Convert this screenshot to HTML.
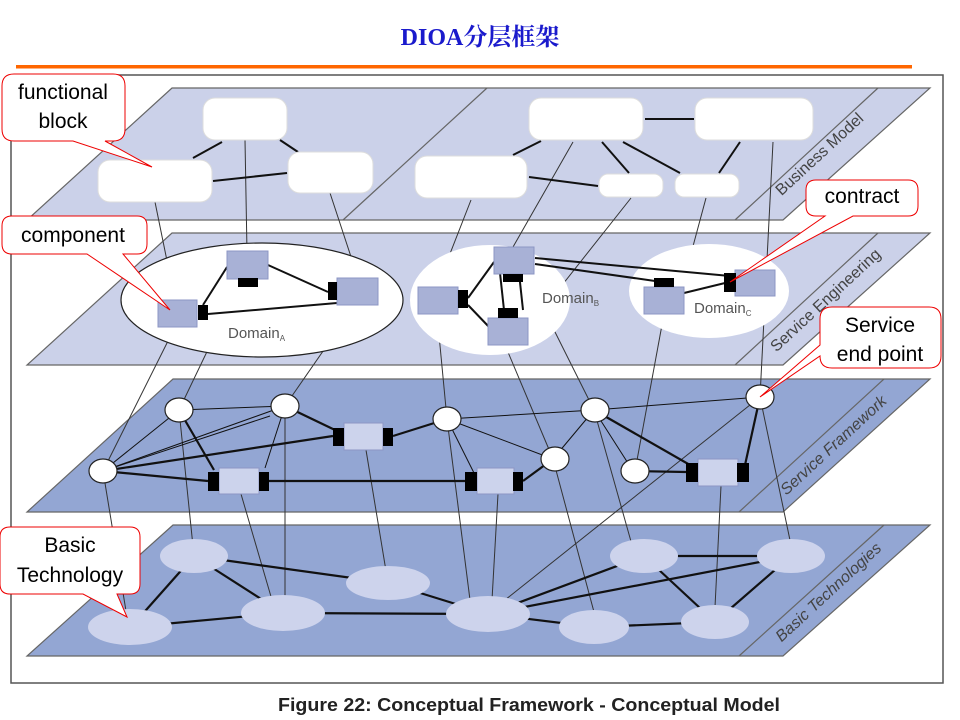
<!DOCTYPE html>
<html><head><meta charset="utf-8"><style>
html,body{margin:0;padding:0;background:#fff;}
svg{display:block;}
</style></head><body>
<svg width="960" height="720" viewBox="0 0 960 720" xmlns="http://www.w3.org/2000/svg" font-family="Liberation Sans, sans-serif">
<text x="480" y="45" text-anchor="middle" font-family="Liberation Serif, Noto Serif CJK SC, serif" font-weight="bold" font-size="24" fill="#1a1acc">DIOA分层框架</text>
<rect x="16" y="65" width="896" height="3.5" fill="#ff6600"/>
<rect x="11" y="75" width="932" height="608" fill="#fff" stroke="#555" stroke-width="1.5"/>

<!-- planes -->
<g stroke="#666" stroke-width="1.2">
<polygon points="172,88 930,88 783,220 27,220" fill="#cbd1e9"/>
<line x1="878" y1="88" x2="735" y2="220"/>
<line x1="487" y1="88" x2="343" y2="220"/>
<polygon points="172,233 930,233 783,365 27,365" fill="#cbd1e9"/>
<line x1="878" y1="233" x2="735" y2="365"/>
<polygon points="173,379 930,379 783,512 27,512" fill="#93a6d3"/>
<line x1="884" y1="379" x2="739" y2="512"/>
<polygon points="173,525 930,525 783,656 27,656" fill="#93a6d3"/>
<line x1="884" y1="525" x2="739" y2="656"/>
</g>
<g fill="#444" font-size="16">
<text transform="translate(823,158) rotate(-42.7)" text-anchor="middle">Business Model</text>
<text transform="translate(829,304) rotate(-42.7)" text-anchor="middle">Service Engineering</text>
<text transform="translate(837,449) rotate(-42.7)" text-anchor="middle" font-style="italic">Service Framework</text>
<text transform="translate(832,596) rotate(-42.7)" text-anchor="middle" font-style="italic">Basic Technologies</text>
</g>

<!-- inter-layer thin lines -->
<g stroke="#333" stroke-width="1" fill="none">
<line x1="155" y1="202" x2="175" y2="300"/>
<line x1="245" y1="140" x2="247" y2="252"/>
<line x1="330" y1="193" x2="358" y2="278"/>
<line x1="471" y1="200" x2="437" y2="287"/>
<line x1="573" y1="142" x2="513" y2="247"/>
<line x1="631" y1="198" x2="525" y2="332"/>
<line x1="706" y1="198" x2="682" y2="287"/>
<line x1="773" y1="142" x2="760" y2="397"/>
<line x1="175" y1="327" x2="103" y2="471"/>
<line x1="238" y1="287" x2="179" y2="410"/>
<line x1="355" y1="305" x2="285" y2="406"/>
<line x1="437" y1="314" x2="447" y2="419"/>
<line x1="505" y1="345" x2="553" y2="459"/>
<line x1="526" y1="274" x2="594" y2="410"/>
<line x1="664" y1="314" x2="635" y2="471"/>
<line x1="103" y1="471" x2="127" y2="617"/>
<line x1="179" y1="410" x2="194" y2="556"/>
<line x1="241" y1="494" x2="272" y2="600"/>
<line x1="285" y1="406" x2="285" y2="600"/>
<line x1="366" y1="450" x2="388" y2="583"/>
<line x1="447" y1="419" x2="470" y2="600"/>
<line x1="498" y1="494" x2="492" y2="600"/>
<line x1="760" y1="397" x2="505" y2="600"/>
<line x1="553" y1="459" x2="594" y2="612"/>
<line x1="594" y1="410" x2="632" y2="545"/>
<line x1="721" y1="486" x2="715" y2="607"/>
<line x1="760" y1="397" x2="791" y2="545"/>
</g>

<!-- business blocks -->
<g stroke="#111" stroke-width="2">
<line x1="193" y1="158" x2="222" y2="142"/>
<line x1="280" y1="140" x2="298" y2="152"/>
<line x1="213" y1="181" x2="287" y2="173"/>
<line x1="645" y1="119" x2="694" y2="119"/>
<line x1="541" y1="141" x2="513" y2="155"/>
<line x1="529" y1="177" x2="598" y2="186"/>
<line x1="602" y1="142" x2="629" y2="173"/>
<line x1="623" y1="142" x2="680" y2="173"/>
<line x1="740" y1="142" x2="719" y2="173"/>
</g>
<g fill="#fff" stroke="#ddd" stroke-width="1">
<rect x="203" y="98" width="84" height="42" rx="12"/>
<rect x="98" y="160" width="114" height="42" rx="12"/>
<rect x="288" y="152" width="85" height="41" rx="12"/>
<rect x="415" y="156" width="112" height="42" rx="12"/>
<rect x="529" y="98" width="114" height="42" rx="12"/>
<rect x="695" y="98" width="118" height="42" rx="12"/>
<rect x="599" y="174" width="64" height="23" rx="9"/>
<rect x="675" y="174" width="64" height="23" rx="9"/>
</g>

<!-- service engineering -->
<ellipse cx="262" cy="300" rx="141" ry="57" fill="#fff" stroke="#222" stroke-width="1.2"/>
<ellipse cx="490" cy="300" rx="80" ry="55" fill="#fff"/>
<ellipse cx="709" cy="291" rx="80" ry="47" fill="#fff"/>
<g fill="#555" font-size="15">
<text x="228" y="338">Domain<tspan font-size="8" dy="3">A</tspan></text>
<text x="542" y="303">Domain<tspan font-size="8" dy="3">B</tspan></text>
<text x="694" y="313">Domain<tspan font-size="8" dy="3">C</tspan></text>
</g>
<g stroke="#111" stroke-width="2">
<line x1="203" y1="305" x2="227" y2="267"/>
<line x1="208" y1="314" x2="337" y2="303"/>
<line x1="268" y1="265" x2="328" y2="292"/>
<line x1="500" y1="273" x2="504" y2="310"/>
<line x1="519" y1="273" x2="523" y2="310"/>
<line x1="468" y1="298" x2="494" y2="262"/>
<line x1="468" y1="305" x2="490" y2="328"/>
<line x1="535" y1="258" x2="730" y2="276"/>
<line x1="535" y1="264" x2="655" y2="281"/>
<line x1="684" y1="293" x2="725" y2="283"/>
</g>
<g fill="#a8b1d6" stroke="#8c96c4" stroke-width="1">
<rect x="158" y="300" width="39" height="27"/>
<rect x="227" y="251" width="41" height="28"/>
<rect x="337" y="278" width="41" height="27"/>
<rect x="418" y="287" width="40" height="27"/>
<rect x="494" y="247" width="40" height="27"/>
<rect x="488" y="318" width="40" height="27"/>
<rect x="644" y="287" width="40" height="27"/>
<rect x="735" y="270" width="40" height="26"/>
</g>
<g fill="#000">
<rect x="198" y="305" width="10" height="15"/>
<rect x="238" y="278" width="20" height="9"/>
<rect x="328" y="282" width="9" height="18"/>
<rect x="458" y="290" width="10" height="18"/>
<rect x="503" y="274" width="20" height="8"/>
<rect x="498" y="308" width="20" height="10"/>
<rect x="654" y="278" width="20" height="9"/>
<rect x="724" y="273" width="12" height="19"/>
</g>

<!-- service framework links -->
<g stroke="#111" stroke-width="1">
<line x1="103" y1="471" x2="179" y2="410"/>
<line x1="103" y1="471" x2="285" y2="406"/>
<line x1="103" y1="471" x2="270" y2="416"/>
<line x1="179" y1="410" x2="285" y2="406"/>
<line x1="285" y1="406" x2="265" y2="468"/>
<line x1="447" y1="419" x2="594" y2="410"/>
<line x1="594" y1="410" x2="760" y2="397"/>
<line x1="447" y1="419" x2="553" y2="459"/>
<line x1="447" y1="419" x2="478" y2="481"/>
<line x1="553" y1="459" x2="594" y2="410"/>
<line x1="594" y1="410" x2="633" y2="471"/>
</g>
<g stroke="#111" stroke-width="2.2">
<line x1="103" y1="471" x2="333" y2="436"/>
<line x1="103" y1="471" x2="208" y2="481"/>
<line x1="179" y1="410" x2="214" y2="470"/>
<line x1="285" y1="406" x2="335" y2="430"/>
<line x1="393" y1="436" x2="447" y2="419"/>
<line x1="269" y1="481" x2="465" y2="481"/>
<line x1="523" y1="481" x2="553" y2="459"/>
<line x1="594" y1="410" x2="690" y2="465"/>
<line x1="633" y1="471" x2="686" y2="472"/>
<line x1="760" y1="397" x2="745" y2="465"/>
</g>
<g fill="#fff" stroke="#222" stroke-width="1.2">
<ellipse cx="103" cy="471" rx="14" ry="12"/>
<ellipse cx="179" cy="410" rx="14" ry="12"/>
<ellipse cx="285" cy="406" rx="14" ry="12"/>
<ellipse cx="447" cy="419" rx="14" ry="12"/>
<ellipse cx="555" cy="459" rx="14" ry="12"/>
<ellipse cx="595" cy="410" rx="14" ry="12"/>
<ellipse cx="635" cy="471" rx="14" ry="12"/>
<ellipse cx="760" cy="397" rx="14" ry="12"/>
</g>
<g fill="#ccd3ec" stroke="#8c96c4">
<rect x="344" y="423" width="39" height="27"/>
<rect x="219" y="468" width="40" height="26"/>
<rect x="477" y="468" width="37" height="26"/>
<rect x="698" y="459" width="40" height="27"/>
</g>
<g fill="#000">
<rect x="333" y="428" width="11" height="18"/>
<rect x="383" y="428" width="10" height="18"/>
<rect x="208" y="472" width="11" height="19"/>
<rect x="259" y="472" width="10" height="19"/>
<rect x="465" y="472" width="12" height="19"/>
<rect x="513" y="472" width="10" height="19"/>
<rect x="686" y="463" width="12" height="19"/>
<rect x="737" y="463" width="12" height="19"/>
</g>

<!-- basic technologies -->
<g stroke="#111" stroke-width="2.2">
<line x1="131" y1="627" x2="194" y2="556"/>
<line x1="131" y1="627" x2="283" y2="613"/>
<line x1="194" y1="556" x2="283" y2="613"/>
<line x1="194" y1="556" x2="388" y2="583"/>
<line x1="283" y1="613" x2="488" y2="614"/>
<line x1="388" y1="583" x2="488" y2="614"/>
<line x1="488" y1="614" x2="594" y2="627"/>
<line x1="594" y1="627" x2="715" y2="622"/>
<line x1="488" y1="614" x2="644" y2="556"/>
<line x1="488" y1="614" x2="791" y2="556"/>
<line x1="644" y1="556" x2="791" y2="556"/>
<line x1="644" y1="556" x2="715" y2="622"/>
<line x1="715" y1="622" x2="791" y2="556"/>
</g>
<g fill="#cdd3ec">
<ellipse cx="130" cy="627" rx="42" ry="18"/>
<ellipse cx="194" cy="556" rx="34" ry="17"/>
<ellipse cx="283" cy="613" rx="42" ry="18"/>
<ellipse cx="388" cy="583" rx="42" ry="17"/>
<ellipse cx="488" cy="614" rx="42" ry="18"/>
<ellipse cx="594" cy="627" rx="35" ry="17"/>
<ellipse cx="644" cy="556" rx="34" ry="17"/>
<ellipse cx="715" cy="622" rx="34" ry="17"/>
<ellipse cx="791" cy="556" rx="34" ry="17"/>
</g>

<!-- callouts -->
<g fill="#fff" stroke="#e00" stroke-width="1">
<path d="M14,74 H113 Q125,74 125,86 V129 Q125,141 113,141 H105 L152,167 L73,141 H14 Q2,141 2,129 V86 Q2,74 14,74 Z"/>
<path d="M12,216 H137 Q147,216 147,226 V244 Q147,254 137,254 H123 L170,310 L87,254 H12 Q2,254 2,244 V226 Q2,216 12,216 Z"/>
<path d="M816,180 H908 Q918,180 918,190 V206 Q918,216 908,216 H853 L730,282 L825,216 H816 Q806,216 806,206 V190 Q806,180 816,180 Z"/>
<path d="M832,307 H929 Q941,307 941,319 V356 Q941,368 929,368 H832 Q820,368 820,356 L760,397 L820,345 V319 Q820,307 832,307 Z"/>
<path d="M10,527 H130 Q140,527 140,537 V584 Q140,594 130,594 H117 L127,617 L83,594 H10 Q0,594 0,584 V537 Q0,527 10,527 Z"/>
</g>
<g font-size="21" fill="#000" text-anchor="middle">
<text x="63" y="99">functional</text>
<text x="63" y="128">block</text>
<text x="73" y="242">component</text>
<text x="862" y="203">contract</text>
<text x="880" y="332">Service</text>
<text x="880" y="361">end point</text>
<text x="70" y="552">Basic</text>
<text x="70" y="582">Technology</text>
</g>

<text x="278" y="711" textLength="502" lengthAdjust="spacingAndGlyphs" font-weight="bold" font-size="18" fill="#222">Figure 22: Conceptual Framework - Conceptual Model</text>
</svg>
</body></html>
